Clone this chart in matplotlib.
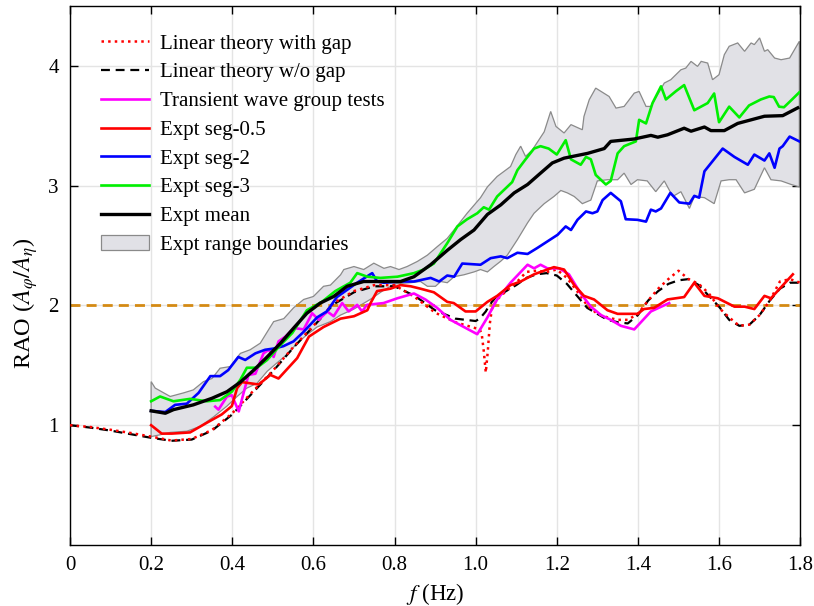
import numpy as np
import matplotlib
matplotlib.use("Agg")
import matplotlib.pyplot as plt
from matplotlib.patches import Patch

plt.rcParams['font.family'] = ['Liberation Serif', 'DejaVu Serif']
plt.rcParams['mathtext.fontset'] = 'stix'

# ---------------- data ----------------
lt_f = [0, 0.05, 0.1, 0.15, 0.2, 0.25, 0.3, 0.35, 0.4, 0.45, 0.5, 0.55, 0.6, 0.65, 0.7,
        0.75, 0.8, 0.85, 0.9, 0.95, 1.0, 1.01, 1.015, 1.02, 1.025, 1.03, 1.035, 1.04,
        1.05, 1.075, 1.1, 1.125, 1.15, 1.175, 1.2, 1.225, 1.25, 1.275, 1.3, 1.325, 1.35,
        1.375, 1.4, 1.425, 1.45, 1.475, 1.5, 1.525, 1.55, 1.575, 1.6, 1.625, 1.65, 1.675,
        1.7, 1.725, 1.75, 1.775, 1.8]
lt_gap = [1.00, 0.985, 0.962, 0.935, 0.905, 0.872, 0.885, 0.96, 1.10, 1.28, 1.455, 1.65,
          1.83, 2.02, 2.12, 2.17, 2.17, 2.07, 1.94, 1.86, 1.81, 1.80, 1.76, 1.62, 1.44,
          1.62, 1.85, 1.97, 2.04, 2.12, 2.19, 2.28, 2.29, 2.28, 2.30, 2.23, 2.12, 2.00,
          1.93, 1.90, 1.88, 1.88, 1.93, 2.04, 2.14, 2.22, 2.29, 2.22, 2.18, 2.10, 1.98,
          1.90, 1.83, 1.84, 1.92, 2.04, 2.20, 2.22, 2.19]
lt_nogap = [1.00, 0.98, 0.955, 0.925, 0.895, 0.87, 0.88, 0.955, 1.09, 1.27, 1.45, 1.645,
            1.825, 2.01, 2.11, 2.16, 2.16, 2.08, 1.96, 1.89, 1.87, 1.89, 1.91, 1.93, 1.95,
            1.98, 2.00, 2.03, 2.07, 2.12, 2.17, 2.23, 2.26, 2.27, 2.25, 2.18, 2.08, 1.98,
            1.93, 1.88, 1.86, 1.85, 1.92, 2.04, 2.12, 2.18, 2.21, 2.22, 2.17, 2.08, 1.99,
            1.88, 1.83, 1.84, 1.92, 2.04, 2.14, 2.19, 2.19]

tr_f = [0.358, 0.366, 0.387, 0.399, 0.416, 0.428, 0.44, 0.457, 0.477, 0.49, 0.502, 0.514,
        0.531, 0.543, 0.556, 0.576, 0.597, 0.613, 0.634, 0.65, 0.671, 0.687, 0.708, 0.72,
        0.732, 0.773, 0.807, 0.848, 0.876, 0.905, 0.938, 0.971, 1.004, 1.029, 1.053, 1.086,
        1.128, 1.144, 1.16, 1.177, 1.206, 1.23, 1.259, 1.284, 1.309, 1.333, 1.358, 1.391,
        1.432, 1.477]
tr_rao = [1.155, 1.13, 1.24, 1.25, 1.115, 1.27, 1.42, 1.43, 1.60, 1.63, 1.57, 1.70, 1.74,
          1.78, 1.81, 1.80, 1.935, 1.88, 1.95, 1.91, 2.02, 1.95, 2.005, 1.95, 2.005, 2.02,
          2.06, 2.10, 2.05, 1.98, 1.88, 1.82, 1.76, 1.90, 2.05, 2.19, 2.34, 2.31, 2.34, 2.31,
          2.31, 2.26, 2.10, 1.99, 1.92, 1.88, 1.83, 1.80, 1.95, 2.02]

s05_f = [0.2, 0.226, 0.251, 0.296, 0.337, 0.374, 0.399, 0.412, 0.424, 0.465, 0.494, 0.514,
         0.56, 0.589, 0.625, 0.667, 0.70, 0.733, 0.741, 0.757, 0.79, 0.815, 0.84, 0.864,
         0.897, 0.93, 0.946, 0.975, 1.0, 1.029, 1.053, 1.086, 1.111, 1.144, 1.193, 1.218,
         1.243, 1.267, 1.292, 1.325, 1.35, 1.374, 1.399, 1.415, 1.44, 1.473, 1.514, 1.539,
         1.564, 1.597, 1.638, 1.663, 1.687, 1.712, 1.728, 1.782]
s05_rao = [1.00, 0.93, 0.93, 0.94, 1.02, 1.09, 1.16, 1.31, 1.36, 1.34, 1.42, 1.39, 1.56,
           1.74, 1.82, 1.89, 1.91, 1.96, 2.02, 2.12, 2.14, 2.17, 2.16, 2.14, 2.11, 2.03,
           2.02, 1.95, 1.95, 2.03, 2.08, 2.17, 2.20, 2.26, 2.32, 2.30, 2.17, 2.08, 2.05,
           1.96, 1.93, 1.93, 1.93, 1.97, 1.98, 2.05, 2.07, 2.19, 2.08, 2.06, 1.99, 1.99,
           1.97, 2.08, 2.06, 2.26]

s2_f = [0.2, 0.235, 0.259, 0.288, 0.317, 0.346, 0.37, 0.39, 0.415, 0.432, 0.457, 0.481,
        0.502, 0.526, 0.551, 0.576, 0.609, 0.633, 0.658, 0.683, 0.708, 0.745, 0.757, 0.774,
        0.815, 0.848, 0.889, 0.91, 0.93, 0.947, 0.967, 1.012, 1.037, 1.062, 1.078, 1.103,
        1.128, 1.152, 1.177, 1.202, 1.222, 1.235, 1.251, 1.272, 1.288, 1.3, 1.313, 1.333,
        1.358, 1.37, 1.399, 1.42, 1.432, 1.444, 1.457, 1.48, 1.502, 1.527, 1.539, 1.551,
        1.564, 1.609, 1.638, 1.671, 1.687, 1.712, 1.724, 1.737, 1.749, 1.757, 1.774, 1.798]
s2_rao = [1.12, 1.11, 1.17, 1.18, 1.27, 1.41, 1.41, 1.46, 1.57, 1.545, 1.60, 1.63, 1.64,
          1.66, 1.70, 1.78, 1.90, 1.95, 2.07, 2.13, 2.19, 2.27, 2.20, 2.19, 2.20, 2.20,
          2.23, 2.20, 2.25, 2.24, 2.35, 2.34, 2.395, 2.41, 2.395, 2.44, 2.43, 2.48, 2.535,
          2.59, 2.66, 2.63, 2.715, 2.785, 2.77, 2.785, 2.88, 2.94, 2.87, 2.72, 2.715, 2.70,
          2.80, 2.785, 2.81, 2.94, 2.86, 2.85, 2.915, 2.90, 3.12, 3.31, 3.24, 3.175, 3.26,
          3.21, 3.27, 3.15, 3.31, 3.33, 3.41, 3.37]

s3_f = [0.2, 0.222, 0.255, 0.296, 0.337, 0.37, 0.399, 0.42, 0.436, 0.461, 0.486, 0.519,
        0.548, 0.584, 0.621, 0.654, 0.691, 0.708, 0.733, 0.765, 0.807, 0.848, 0.872, 0.897,
        0.93, 0.955, 0.979, 1.004, 1.02, 1.033, 1.053, 1.09, 1.103, 1.123, 1.144, 1.16,
        1.18, 1.2, 1.222, 1.235, 1.259, 1.272, 1.284, 1.296, 1.321, 1.333, 1.35, 1.366,
        1.395, 1.403, 1.42, 1.436, 1.457, 1.469, 1.494, 1.514, 1.539, 1.572, 1.588, 1.6,
        1.625, 1.65, 1.674, 1.703, 1.724, 1.735, 1.748, 1.76, 1.78, 1.798]
s3_rao = [1.20, 1.24, 1.20, 1.22, 1.20, 1.21, 1.28, 1.38, 1.48, 1.48, 1.545, 1.67, 1.77,
          1.96, 2.03, 2.12, 2.19, 2.27, 2.24, 2.23, 2.24, 2.27, 2.30, 2.35, 2.52, 2.66,
          2.72, 2.77, 2.82, 2.80, 2.91, 3.03, 3.13, 3.22, 3.31, 3.33, 3.31, 3.26, 3.38,
          3.22, 3.175, 3.24, 3.22, 3.09, 3.01, 3.04, 3.27, 3.33, 3.37, 3.55, 3.52, 3.69,
          3.83, 3.72, 3.79, 3.84, 3.63, 3.69, 3.77, 3.53, 3.66, 3.57, 3.67, 3.72, 3.745,
          3.74, 3.66, 3.655, 3.72, 3.78]

mean_f = [0.2, 0.235, 0.255, 0.304, 0.35, 0.387, 0.42, 0.453, 0.486, 0.519, 0.551, 0.584,
          0.617, 0.65, 0.683, 0.724, 0.765, 0.815, 0.848, 0.889, 0.93, 0.963, 0.996, 1.029,
          1.062, 1.095, 1.128, 1.16, 1.189, 1.218, 1.247, 1.276, 1.317, 1.333, 1.391, 1.432,
          1.449, 1.473, 1.514, 1.531, 1.564, 1.58, 1.613, 1.646, 1.679, 1.712, 1.757, 1.794]
mean_rao = [1.12, 1.10, 1.13, 1.17, 1.225, 1.28, 1.36, 1.46, 1.57, 1.685, 1.81, 1.935,
            2.02, 2.075, 2.16, 2.20, 2.20, 2.20, 2.24, 2.34, 2.46, 2.55, 2.63, 2.76, 2.84,
            2.94, 3.01, 3.105, 3.19, 3.23, 3.25, 3.27, 3.31, 3.37, 3.39, 3.42, 3.405, 3.425,
            3.48, 3.455, 3.49, 3.46, 3.46, 3.52, 3.55, 3.58, 3.585, 3.65]

up_f = [0.2, 0.21, 0.247, 0.28, 0.304, 0.329, 0.35, 0.37, 0.395, 0.42, 0.444, 0.469, 0.49,
        0.502, 0.527, 0.551, 0.576, 0.6, 0.625, 0.642, 0.667, 0.675, 0.70, 0.724, 0.749,
        0.774, 0.79, 0.811, 0.831, 0.856, 0.881, 0.905, 0.93, 0.95, 0.979, 1.012, 1.029,
        1.053, 1.086, 1.099, 1.111, 1.123, 1.14, 1.169, 1.185, 1.198, 1.218, 1.235, 1.263,
        1.267, 1.28, 1.296, 1.329, 1.346, 1.366, 1.391, 1.403, 1.42, 1.432, 1.465, 1.481,
        1.506, 1.518, 1.531, 1.547, 1.556, 1.572, 1.584, 1.6, 1.613, 1.625, 1.646, 1.663,
        1.679, 1.687, 1.7, 1.712, 1.72, 1.737, 1.753, 1.774, 1.798]
up_rao = [1.364, 1.31, 1.24, 1.27, 1.295, 1.364, 1.39, 1.476, 1.49, 1.60, 1.63, 1.685, 1.80,
          1.865, 1.89, 1.98, 2.05, 2.075, 2.16, 2.17, 2.256, 2.30, 2.325, 2.30, 2.353, 2.31,
          2.325, 2.30, 2.325, 2.367, 2.42, 2.49, 2.56, 2.645, 2.77, 2.90, 2.99, 3.077, 3.16,
          3.26, 3.33, 3.244, 3.30, 3.45, 3.62, 3.495, 3.44, 3.51, 3.467, 3.578, 3.718, 3.815,
          3.745, 3.648, 3.662, 3.773, 3.787, 3.662, 3.662, 3.857, 3.885, 3.968, 3.982, 4.038,
          3.996, 4.038, 4.024, 3.885, 3.927, 4.094, 4.164, 4.192, 4.122, 4.192, 4.178, 4.234,
          4.122, 4.136, 4.066, 4.052, 4.066, 4.206]

lo_f = [0.2, 0.222, 0.247, 0.288, 0.321, 0.354, 0.387, 0.412, 0.436, 0.461, 0.486, 0.51,
        0.535, 0.56, 0.584, 0.609, 0.642, 0.667, 0.70, 0.74, 0.77, 0.80, 0.84, 0.864, 0.881,
        0.901, 0.914, 0.93, 0.947, 0.971, 0.996, 1.012, 1.029, 1.045, 1.062, 1.078, 1.103,
        1.128, 1.144, 1.169, 1.193, 1.21, 1.226, 1.243, 1.263, 1.284, 1.3, 1.325, 1.35,
        1.366, 1.383, 1.399, 1.423, 1.444, 1.465, 1.486, 1.506, 1.527, 1.539, 1.564, 1.588,
        1.605, 1.625, 1.642, 1.663, 1.687, 1.712, 1.728, 1.753, 1.778, 1.798]
lo_rao = [0.905, 0.92, 0.94, 0.95, 0.99, 1.07, 1.16, 1.24, 1.31, 1.35, 1.45, 1.52, 1.59,
          1.685, 1.755, 1.82, 1.865, 1.92, 1.97, 2.05, 2.12, 2.18, 2.19, 2.20, 2.16, 2.16,
          2.20, 2.19, 2.24, 2.256, 2.28, 2.30, 2.28, 2.325, 2.37, 2.42, 2.55, 2.69, 2.77,
          2.85, 2.91, 2.96, 2.94, 2.91, 2.85, 2.88, 3.04, 3.05, 3.05, 3.105, 3.01, 3.05,
          3.04, 2.95, 3.04, 2.91, 2.95, 2.81, 2.91, 2.90, 2.85, 3.04, 3.05, 3.05, 2.94, 2.97,
          3.15, 3.05, 3.04, 3.01, 2.99]

ref_level = 2.0
xticks = [0, 0.2, 0.4, 0.6, 0.8, 1.0, 1.2, 1.4, 1.6, 1.8]
xticklabels = ['0', '0.2', '0.4', '0.6', '0.8', '1.0', '1.2', '1.4', '1.6', '1.8']
yticks = [1, 2, 3, 4]

# ---------------- plot ----------------
fig = plt.figure(figsize=(8.14, 6.06), dpi=100)
ax = fig.add_axes([0.086, 0.1007, 0.897, 0.8893])

poly_x = np.concatenate([up_f, lo_f[::-1]])
poly_y = np.concatenate([up_rao, lo_rao[::-1]])
ax.fill(poly_x, poly_y, facecolor='#e1e1e6', edgecolor='#8a8a8a', linewidth=0.9, zorder=1)

ax.axhline(ref_level, color='#d48a14', linewidth=2.0, dashes=(3.6, 2.2), zorder=2)

ax.plot(lt_f, lt_nogap, color='black', linewidth=1.6, dashes=(4, 2.6), zorder=3)
ax.plot(lt_f, lt_gap, color='red', linewidth=1.8, linestyle=':', zorder=4)
ax.plot(tr_f, tr_rao, color='#ff00ff', linewidth=1.9, zorder=5)
ax.plot(s05_f, s05_rao, color='#ff0000', linewidth=1.9, zorder=6)
ax.plot(s2_f, s2_rao, color='#0000ff', linewidth=1.9, zorder=6)
ax.plot(s3_f, s3_rao, color='#00f000', linewidth=1.9, zorder=6)
ax.plot(mean_f, mean_rao, color='black', linewidth=2.4, zorder=7)

ax.set_xlim(0, 1.8)
ax.set_ylim(0, 4.5)
ax.set_xticks(xticks)
ax.set_xticklabels(xticklabels)
ax.set_yticks(yticks)
ax.tick_params(direction='in', top=True, right=True, length=6, width=1, labelsize=15, pad=8)
ax.grid(True, color='#e4e4e4', linewidth=1)
ax.set_axisbelow(True)
for s in ax.spines.values():
    s.set_linewidth(1.0)

ax.set_xlabel(r'$f$ (Hz)', fontsize=16.5, labelpad=4)
ax.set_ylabel(r'RAO ($A_{\varphi}/A_{\eta}$)', fontsize=17.5, labelpad=6)
ax.yaxis.label.set_y(0.448)

handles = [
    plt.Line2D([], [], color='red', linewidth=1.8, linestyle=':'),
    plt.Line2D([], [], color='black', linewidth=1.6, dashes=(4, 2.6)),
    plt.Line2D([], [], color='#ff00ff', linewidth=1.9),
    plt.Line2D([], [], color='#ff0000', linewidth=1.9),
    plt.Line2D([], [], color='#0000ff', linewidth=1.9),
    plt.Line2D([], [], color='#00f000', linewidth=1.9),
    plt.Line2D([], [], color='black', linewidth=2.4),
    Patch(facecolor='#e1e1e6', edgecolor='#8a8a8a', linewidth=0.9),
]
labels = ['Linear theory with gap', 'Linear theory w/o gap', 'Transient wave group tests',
          'Expt seg-0.5', 'Expt seg-2', 'Expt seg-3', 'Expt mean', 'Expt range boundaries']
ax.legend(handles, labels, loc='upper left', bbox_to_anchor=(0.023, 0.975), frameon=False,
          fontsize=15, labelspacing=0.44, handlelength=2.3, handletextpad=0.5,
          borderaxespad=0.3)

fig.savefig('out.png', dpi=100)
